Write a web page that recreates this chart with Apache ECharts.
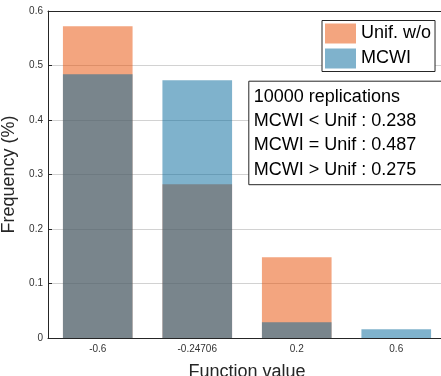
<!DOCTYPE html>
<html>
<head>
<meta charset="utf-8">
<script src="https://cdn.jsdelivr.net/npm/echarts@6/dist/echarts.min.js"></script>
<style>html,body{margin:0;padding:0;background:#fff;}#main{width:441px;height:376px;}</style>
</head>
<body>
<div id="main"></div>
<script>
var categories = ['-0.6', '-0.24706', '0.2', '0.6'];
var unifValues = [0.572, 0.282, 0.148, 0];
var mcwiValues = [0.484, 0.473, 0.029, 0.016];
var seriesNames = ['Unif. w/o', 'MCWI'];
var yTicks = { min: 0, max: 0.6, interval: 0.1 };
var noteLines = ['10000 replications', 'MCWI < Unif : 0.238', 'MCWI = Unif : 0.487', 'MCWI > Unif : 0.275'];

var FONT = 'Liberation Sans, Arial, Helvetica, sans-serif';
var AX = '#262626';
var chart = echarts.init(document.getElementById('main'), null, { renderer: 'canvas' });

var noteChildren = [{
  type: 'rect',
  z: 100,
  shape: { x: 0, y: 0, width: 220, height: 103.5 },
  style: { fill: '#fff', stroke: AX, lineWidth: 1 }
}];
noteLines.forEach(function (t, i) {
  noteChildren.push({
    type: 'text',
    z: 101,
    x: 5, y: 15.5 + i * 24.4,
    style: { text: t, fill: '#000', font: '18px ' + FONT, verticalAlign: 'middle', align: 'left' }
  });
});

chart.setOption({
  animation: false,
  textStyle: { fontFamily: FONT },
  grid: { left: 48, right: -5, top: 11, bottom: 38, containLabel: false, outerBoundsMode: 'none' },
  legend: {
    data: seriesNames,
    orient: 'vertical',
    left: 322, top: 20.5,
    padding: [3, 4, 3, 3],
    itemGap: 5, itemWidth: 31, itemHeight: 20,
    icon: 'rect',
    backgroundColor: '#fff',
    borderColor: AX, borderWidth: 1,
    textStyle: { fontSize: 18, color: '#000', fontFamily: FONT }
  },
  xAxis: [{
    type: 'category',
    data: categories,
    name: 'Function value',
    nameLocation: 'middle',
    nameGap: 25,
    nameTextStyle: { fontSize: 18, color: AX, fontFamily: FONT },
    axisLine: { lineStyle: { color: AX, width: 1 } },
    axisTick: { alignWithLabel: true, inside: true, length: 4, lineStyle: { color: AX } },
    axisLabel: { fontSize: 10, color: '#333', margin: 6 }
  }, {
    type: 'category',
    data: categories,
    position: 'top',
    axisLine: { lineStyle: { color: AX, width: 1 } },
    axisTick: { alignWithLabel: true, inside: true, length: 4, lineStyle: { color: AX } },
    axisLabel: { show: false }
  }],
  yAxis: {
    type: 'value',
    min: yTicks.min, max: yTicks.max, interval: yTicks.interval,
    name: 'Frequency (%)',
    nameLocation: 'middle',
    nameGap: 19,
    nameTextStyle: { fontSize: 18, color: AX, fontFamily: FONT },
    axisLine: { show: true, lineStyle: { color: AX, width: 1 } },
    axisTick: { show: true, inside: true, length: 4, lineStyle: { color: AX } },
    axisLabel: { fontSize: 10, color: '#333', margin: 5 },
    splitLine: { show: true, lineStyle: { color: '#d2d2d2', width: 1 } }
  },
  series: [{
    name: seriesNames[0],
    type: 'bar',
    data: unifValues,
    barWidth: '70%',
    barGap: '-100%',
    itemStyle: { color: 'rgba(231,75,0,0.5)' }
  }, {
    name: seriesNames[1],
    type: 'bar',
    data: mcwiValues,
    barWidth: '70%',
    barGap: '-100%',
    itemStyle: { color: 'rgba(0,101,153,0.5)' }
  }],
  graphic: [{
    type: 'group',
    left: 248.3, top: 80.7,
    z: 100,
    children: noteChildren
  }]
});
</script>
</body>
</html>
